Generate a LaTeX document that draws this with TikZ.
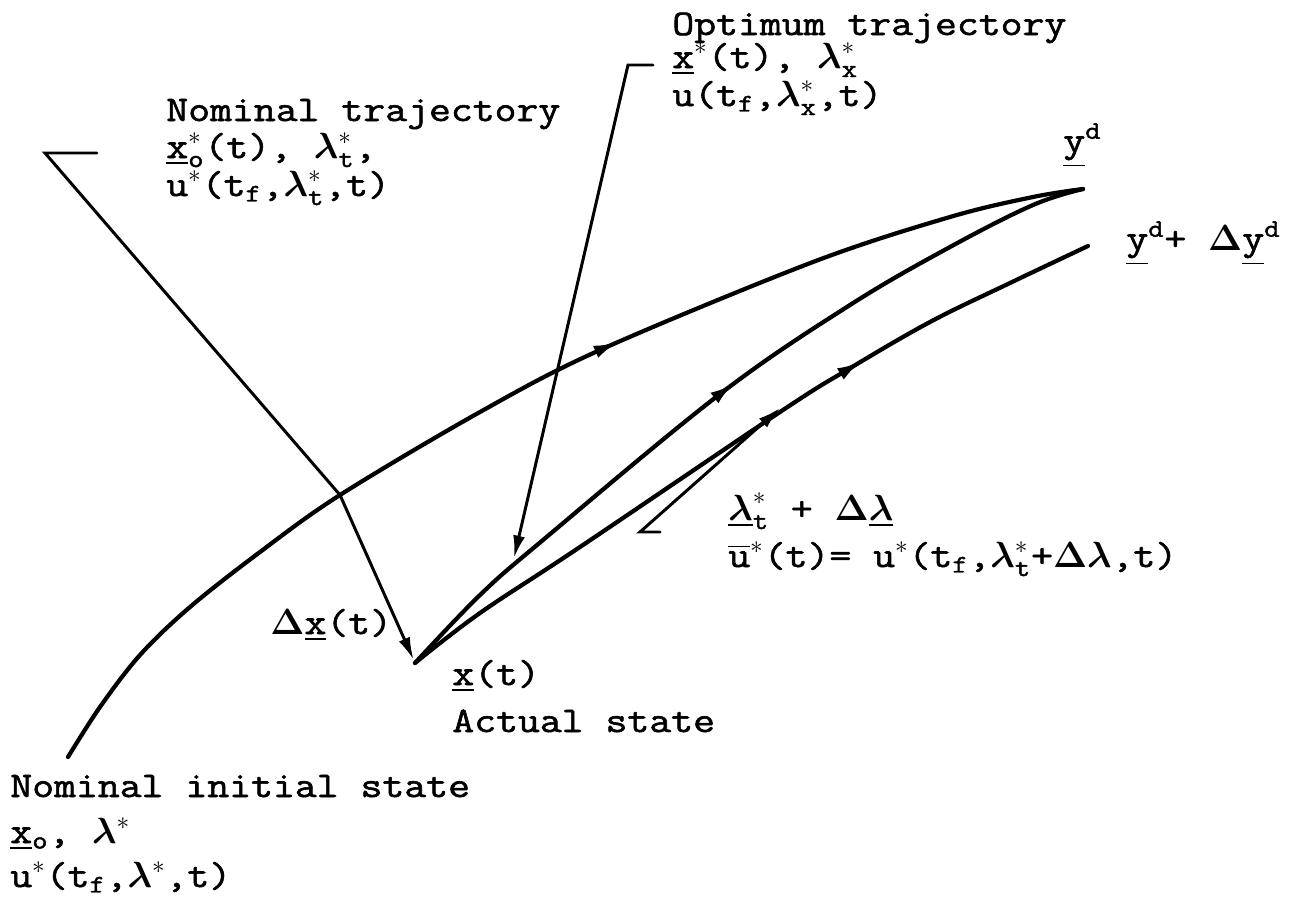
\documentclass[tikz,border=0pt]{standalone}
\usepackage{amsmath,amssymb}
\usepackage{bm}
\usepackage{fontspec}
\setmainfont{Latin Modern Mono}[FakeStretch=1.18, FakeBold=1.6]
\usetikzlibrary{arrows.meta,decorations.markings}

\newcommand{\lam}{\bm{\lambda}}
\newcommand{\dlt}{\bm{\Delta}}

\begin{document}
\begin{tikzpicture}[x=0.02cm, y=-0.02cm,
    traj/.style={line width=2.4pt, line cap=round, line join=round},
    lead/.style={line width=1.7pt, line cap=round},
    lbl/.style={anchor=base west, inner sep=0pt,
        font=\fontsize{20.5}{25}\selectfont},
    flow/.style={postaction={decorate}, decoration={markings,
        mark=at position #1 with {\arrow{Latex[length=5mm,width=2.6mm]}}}},
    >={Latex[length=4.5mm,width=2.4mm]}
]
\useasboundingbox (0,0) rectangle (1302,916);

% end points of the trajectories
\coordinate (x0) at (68,757);
\coordinate (xt) at (415,663);
\coordinate (yd) at (1083,189);
\coordinate (ydpert) at (1088,246);

% nominal, optimum and perturbed trajectories
\draw[traj, flow=0.588] plot[smooth, tension=0.55] coordinates {(x0) (100,707) (140,655) (190,607) (260,552) (340,495) (480,412) (600,350) (813,262) (950,217) (1033,197) (yd)};
\draw[traj, flow=0.515] plot[smooth, tension=0.6] coordinates {(xt) (480,595) (543,540) (720,394) (850,305) (950,247) (1033,205) (yd)};
\draw[traj, flow=0.68] plot[smooth, tension=0.6] coordinates {(xt) (480,613) (580,547) (780,412) (847,370) (930,322) (1010,283) (ydpert)};

% labels
\node[lbl] (nomname) at (166,121) {Nominal trajectory};
\node[lbl] (nomstate) at (166,158) {\underline{x}$^{*}_{\text{o}}$(t), $\lam^{*}_{\text{t}}$,};
\node[lbl] (nomctrl) at (166,196) {u$^{*}$(t$_{\text{f}}$,$\lam^{*}_{\text{t}}$,t)};
\node[lbl] (optname) at (672,35) {Optimum trajectory};
\node[lbl] (optstate) at (672,68) {\underline{x}$^{*}$(t), $\lam^{*}_{\text{x}}$};
\node[lbl] (optctrl) at (672,106) {u(t$_{\text{f}}$,$\lam^{*}_{\text{x}}$,t)};
\node[lbl] (ydlbl) at (1063,152) {\underline{y}$^{\text{d}}$};
\node[lbl] (ydpertlbl) at (1126,250) {\underline{y}$^{\text{d}}$+ $\dlt$\underline{y}$^{\text{d}}$};
\node[lbl] (pertpar) at (728,520) {$\underline{\lam}^{*}_{\text{t}}$ + $\dlt\underline{\lam}$};
\node[lbl] (pertctrl) at (728,567) {$\overline{\text{u}}^{*}$(t)= u$^{*}$(t$_{\text{f}}$,$\lam^{*}_{\text{t}}$+$\dlt\lam$,t)};
\node[lbl] (dxlbl) at (270,634) {$\dlt$\underline{x}(t)};
\node[lbl] (xtlbl) at (452,685) {\underline{x}(t)};
\node[lbl] (actual) at (452,732) {Actual state};
\node[lbl] (initname) at (10,797) {Nominal initial state};
\node[lbl] (initstate) at (10,843) {\underline{x}$_{\text{o}}$, $\lam^{*}$};
\node[lbl] (initctrl) at (10,887) {u$^{*}$(t$_{\text{f}}$,$\lam^{*}$,t)};

% leaders
\coordinate (nomstub) at (97,153);
\coordinate (nomkink) at (45,153);
\coordinate (nomcross) at (340,495);
\coordinate (optstub) at (653,65);
\coordinate (optkink) at (628,65);
\coordinate (opthit) at (514,558);
\coordinate (pertstub) at (660,532);
\coordinate (pertkink) at (640,532);
\coordinate (perthit) at (780,408);

\draw[lead, ->, shorten >=2pt] (nomstub) -- (nomkink) -- (nomcross) -- (xt);
\draw[lead, ->] (optstub) -- (optkink) -- (opthit);
\draw[lead, ->] (pertstub) -- (pertkink) -- (perthit);
\end{tikzpicture}
\end{document}
